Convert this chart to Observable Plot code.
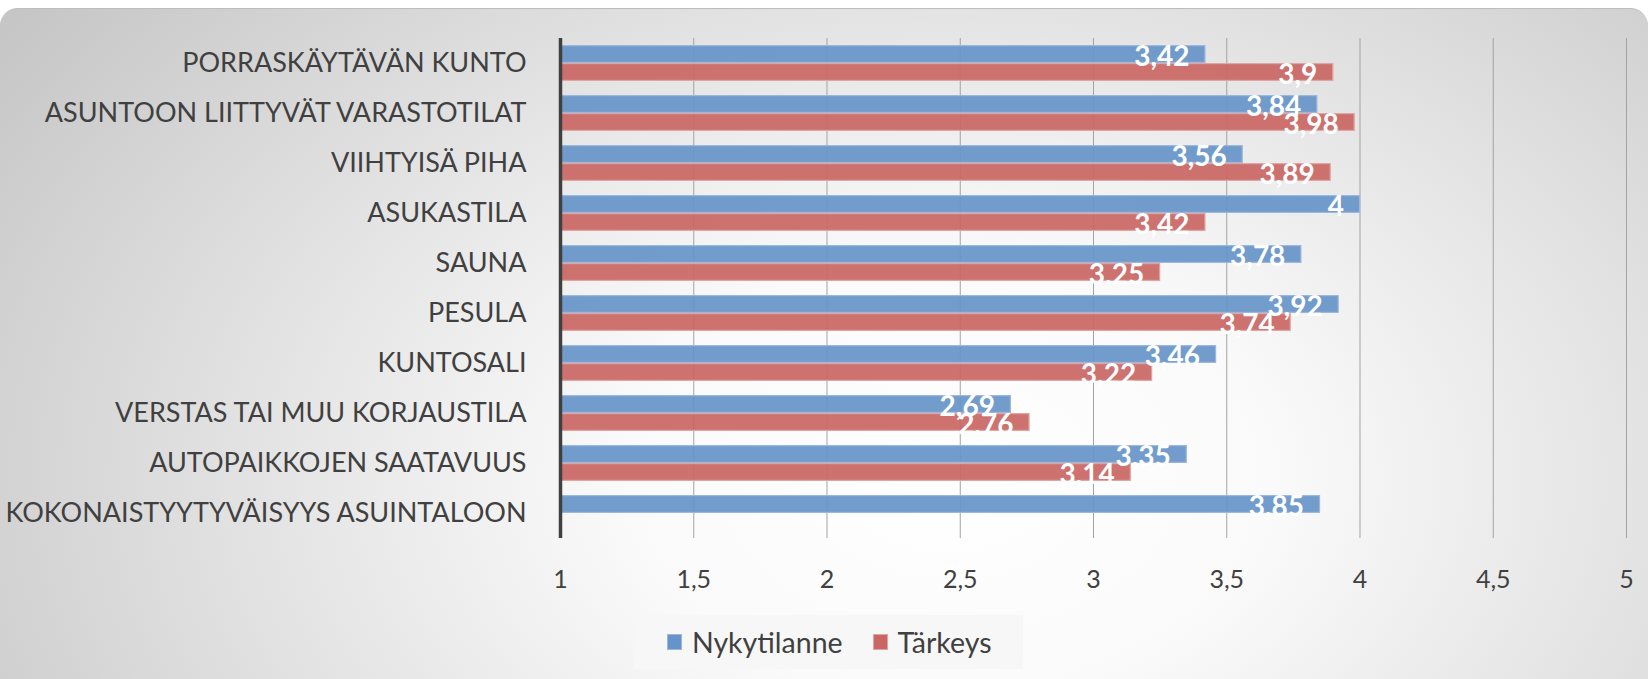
<!DOCTYPE html>
<html>
<head>
<meta charset="utf-8">
<script src="https://cdn.jsdelivr.net/npm/d3@7"></script>
<script src="https://cdn.jsdelivr.net/npm/@observablehq/plot@0.6"></script>
<style>
  html, body { margin: 0; padding: 0; background: #ffffff; }
  #wrap { position: relative; width: 1648px; height: 679px; overflow: hidden; font-family: Lato, "Open Sans", sans-serif; }
  #bg { position: absolute; left: 0; right: 0; top: 8px; bottom: 0;
        border-radius: 18px 18px 0 0;
        border-top: 1px solid #bdbdbd;
        background: radial-gradient(ellipse 1150px 780px at 950px 470px, #ffffff 0%, #fafafa 28%, #e2e2e2 62%, #c6c6c6 100%); }
  #chart { position: absolute; left: 0; top: 0; }
  #chart svg [aria-label^="fy-axis"] text { font-size: 27px; }
  #legend { position: absolute; left: 634px; top: 615px; width: 389px; height: 54px; background: #f7f7f7;
            display: flex; align-items: center; font-size: 28.5px; color: #404040; }
  .sw { display: inline-block; width: 15px; height: 16px; margin-right: 10px; box-sizing: border-box; }
  .item { display: flex; align-items: center; }
</style>
</head>
<body>
<div id="wrap">
  <div id="bg"></div>
  <div id="chart"></div>
  <div id="legend"></div>
</div>
<script>
const categories = [
  "PORRASKÄYTÄVÄN KUNTO",
  "ASUNTOON LIITTYVÄT VARASTOTILAT",
  "VIIHTYISÄ PIHA",
  "ASUKASTILA",
  "SAUNA",
  "PESULA",
  "KUNTOSALI",
  "VERSTAS TAI MUU KORJAUSTILA",
  "AUTOPAIKKOJEN SAATAVUUS",
  "KOKONAISTYYTYVÄISYYS ASUINTALOON"
];
const series = ["Nykytilanne", "Tärkeys"];
const nykytilanne = [3.42, 3.84, 3.56, 4, 3.78, 3.92, 3.46, 2.69, 3.35, 3.85];
const tarkeys = [3.9, 3.98, 3.89, 3.42, 3.25, 3.74, 3.22, 2.76, 3.14, null];
const xTicks = [1, 1.5, 2, 2.5, 3, 3.5, 4, 4.5, 5];
const fills = ["#6794C8", "#C96764"];
const strokes = ["#9BB7DE", "#E0A4A2"];

const rows = [];
categories.forEach((c, i) => {
  if (nykytilanne[i] != null) rows.push({category: c, series: series[0], value: nykytilanne[i]});
  if (tarkeys[i] != null) rows.push({category: c, series: series[1], value: tarkeys[i]});
});
const fmt = v => String(v).replace(".", ",");
const xMin = xTicks[0];

const barMark = (k) => Plot.barX(rows.filter(d => d.series === series[k]), {
  fy: "category", y: "series", x1: xMin, x2: "value",
  fill: fills[k], fillOpacity: 0.93, stroke: strokes[k], strokeWidth: 1.2,
  insetTop: 0.6, insetBottom: 0.6
});

const chart = Plot.plot({
  width: 1648,
  height: 600,
  marginTop: 38,
  marginBottom: 62,
  marginLeft: 560,
  marginRight: 22,
  style: {background: "transparent", fontFamily: "Lato, 'Open Sans', sans-serif", fontSize: "25px", color: "#404040", overflow: "visible"},
  x: {domain: [xTicks[0], xTicks[xTicks.length - 1]], ticks: xTicks, tickFormat: fmt, tickSize: 0, tickPadding: 32, label: null},
  y: {domain: series, axis: null, paddingInner: 0, paddingOuter: 0.35},
  fy: {domain: categories, padding: 0, axis: "left", tickSize: 0, tickPadding: 34, label: null},
  marks: [
    Plot.ruleX(xTicks.slice(1), {stroke: "#a3a3a3", strokeWidth: 1}),
    barMark(0),
    barMark(1),
    Plot.ruleX([xMin], {stroke: "#404040", strokeWidth: 3.5}),
    Plot.text(rows, {
      fy: "category", y: "series", x: "value", text: d => fmt(d.value),
      textAnchor: "end", dx: -16, dy: 3, fill: "white", fontSize: 28, fontWeight: "bold"
    })
  ]
});
document.getElementById("chart").appendChild(chart);

const legend = document.getElementById("legend");
const pads = [33, 30];
series.forEach((s, k) => {
  const item = document.createElement("div");
  item.className = "item";
  item.style.marginLeft = pads[k] + "px";
  const sw = document.createElement("span");
  sw.className = "sw";
  sw.style.background = fills[k];
  sw.style.border = "1px solid " + strokes[k];
  const t = document.createElement("span");
  t.textContent = s;
  item.appendChild(sw);
  item.appendChild(t);
  legend.appendChild(item);
});
</script>
</body>
</html>
